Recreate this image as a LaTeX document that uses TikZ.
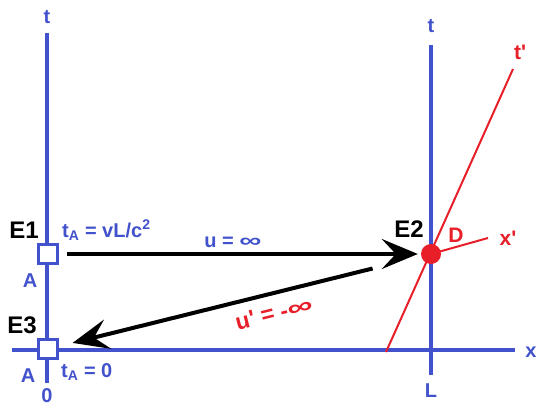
\documentclass[tikz,border=0pt]{standalone}
\usepackage{fontspec}
\setmainfont{Liberation Sans}
\usepackage{graphicx}
\usetikzlibrary{arrows.meta,positioning}
\definecolor{axisblue}{RGB}{66,82,204}
\definecolor{linered}{RGB}{232,30,40}
\newcommand{\wideinf}{\scalebox{1.55}[1]{∞}}
\tikzset{
axis/.style={draw=axisblue,line width=4pt},
redline/.style={draw=linered,line width=2pt},
event/.style={draw=axisblue,fill=white,line width=3pt,minimum size=19pt,inner sep=0pt},
dot/.style={circle,fill=linered,minimum size=20pt,inner sep=0pt},
arrow/.style={-{Stealth[length=36pt,width=30pt,inset=14pt]},line width=4pt},
evlabel/.style={inner sep=0pt,anchor=base,font=\fontsize{24}{26}\selectfont\bfseries},
bluelabel/.style={inner sep=0pt,anchor=base,text=axisblue,font=\fontsize{20}{22}\selectfont\bfseries},
redlabel/.style={inner sep=0pt,anchor=base,text=linered,font=\fontsize{21}{24}\selectfont\bfseries}
}
\begin{document}
\begin{tikzpicture}[x=1pt,y=-1pt]
\useasboundingbox (0,0) rectangle (537,406);
% axis ends
\coordinate (tA0) at (47,383);
\coordinate (tA1) at (47,33);
\coordinate (x0) at (12,350);
\coordinate (x1) at (515,350);
\coordinate (tL0) at (431,375);
\coordinate (tL1) at (431,45);
\coordinate (Dc) at (431,254);
\coordinate (tp0) at (386,352);
\coordinate (tp1) at (513,69);
\coordinate (xp1) at (488,238);

\draw[axis] (tA0) -- (tA1);
\draw[axis] (x0) -- (x1);
\draw[axis] (tL0) -- (tL1);
\draw[redline] (tp0) -- (tp1);
\draw[redline] (Dc) -- (xp1);

\node[event] (E1) at (48,254) {};
\node[event] (E3) at (48,349) {};
\node[dot] (D) at (Dc) {};

\draw[arrow,shorten <=8pt,shorten >=3pt] (E1) -- (D);
\draw[arrow,shorten <=50pt,shorten >=14pt] (D) -- (E3);

% labels
\node[bluelabel] (tlabA) at (47,24) {t};
\node[bluelabel] (tlabL) at (431,33) {t};
\node[redlabel] (tprime) at (520,60) {t\textquotesingle};
\node[evlabel] (lE1) at (24,238) {E1};
\node[evlabel] (lE3) at (22,333) {E3};
\node[evlabel] (lE2) at (409,237) {E2};
\node[bluelabel] (lA1) at (30,287) {A};
\node[bluelabel] (lA3) at (28,382) {A};
\node[bluelabel,anchor=base west] (tAone) at (62,237) {t\textsubscript{A} = vL/c\textsuperscript{2}};
\node[bluelabel,anchor=base west] (tAzero) at (61,377) {t\textsubscript{A} = 0};
\node[bluelabel] (zero) at (47,402) {0};
\node[bluelabel] (uinf) at (233,247) {u = \wideinf};
\node[redlabel,anchor=center,rotate=14,font=\fontsize{23}{26}\selectfont\bfseries] (upinf) at (274,313) {u\textquotesingle{} = -\wideinf};
\node[redlabel] (lD) at (456,242) {D};
\node[redlabel] (xprime) at (508,245) {x\textquotesingle};
\node[bluelabel] (xlab) at (531,357) {x};
\node[bluelabel] (Llab) at (431,397) {L};
\end{tikzpicture}
\end{document}
